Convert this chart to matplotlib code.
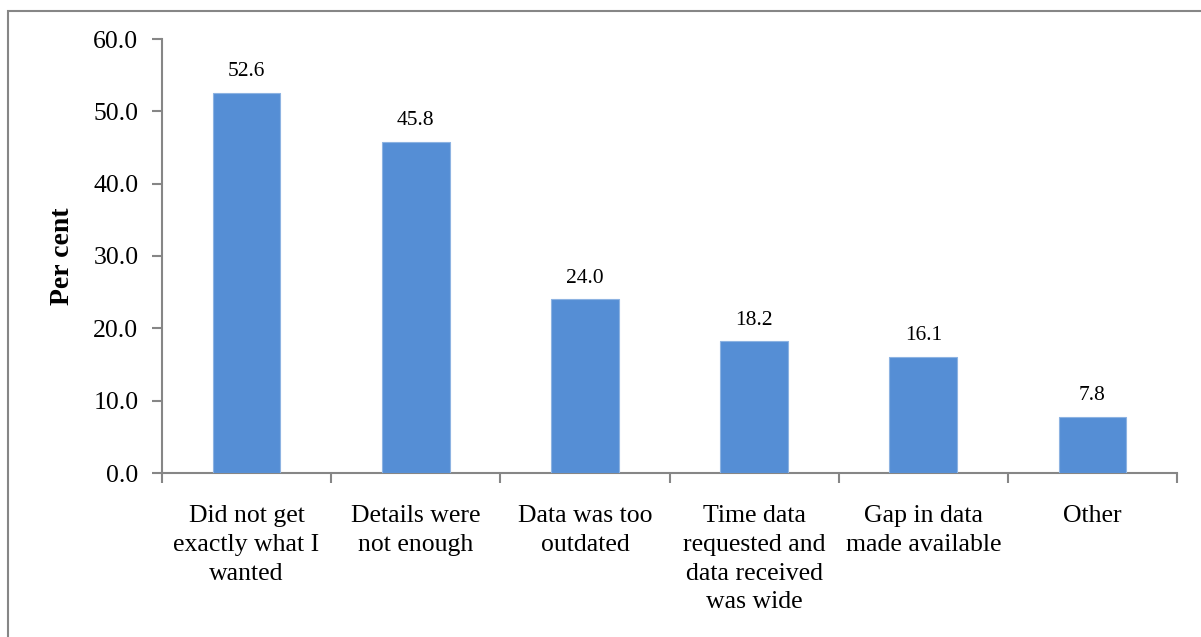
import matplotlib
matplotlib.use("Agg")
import matplotlib.pyplot as plt
from matplotlib.patches import Rectangle

categories = ["Did not get\nexactly what I\nwanted", "Details were\nnot enough", "Data was too\noutdated",
              "Time data\nrequested and\ndata received\nwas wide", "Gap in data\nmade available", "Other"]
values = [52.6, 45.8, 24.0, 18.2, 16.1, 7.8]
yticks = [0, 10, 20, 30, 40, 50, 60]

plt.rcParams['font.family'] = ['Liberation Serif', 'DejaVu Serif']

fig = plt.figure(figsize=(12.01, 6.37), dpi=100)
ax = fig.add_axes([162/1201, 1-473/637, (1177-162)/1201, (473-39)/637])

x = list(range(len(categories)))
bars = ax.bar(x, values, width=0.40, color="#558ED5", edgecolor="#8DB3E2", linewidth=0.8, zorder=3)
for xi, v in zip(x, values):
    ax.text(xi, v + 1.6, f"{v:.1f}", ha="center", va="bottom", fontsize=15.5)

ax.set_xlim(-0.5, len(categories) - 0.5)
ax.set_ylim(0, 60)
ax.set_yticks(yticks)
ax.set_yticklabels([f"{t:.1f}" for t in yticks], fontsize=18.5)
ax.set_xticks([i - 0.5 for i in range(len(categories) + 1)], minor=False)
ax.set_xticklabels([])
ax.set_xticks(x, minor=True)
ax.set_xticklabels(categories, minor=True, fontsize=18.5, linespacing=1.4)
ax.tick_params(axis="x", which="minor", length=0, pad=23)
ax.tick_params(axis="x", which="major", length=7, color="#868686", width=1.5)
ax.tick_params(axis="y", length=7, color="#868686", width=1.5, pad=10)
for s in ["top", "right"]:
    ax.spines[s].set_visible(False)
for s in ["left", "bottom"]:
    ax.spines[s].set_color("#868686")
    ax.spines[s].set_linewidth(1.5)
ax.set_ylabel("Per cent", fontsize=20, fontweight="bold", labelpad=13)

fig.patches.append(Rectangle((8/1201, -0.05), 1.1, 1-11/637+0.05, transform=fig.transFigure,
                             fill=False, edgecolor="#868686", linewidth=1.5))
fig.savefig("out.png", dpi=100)
